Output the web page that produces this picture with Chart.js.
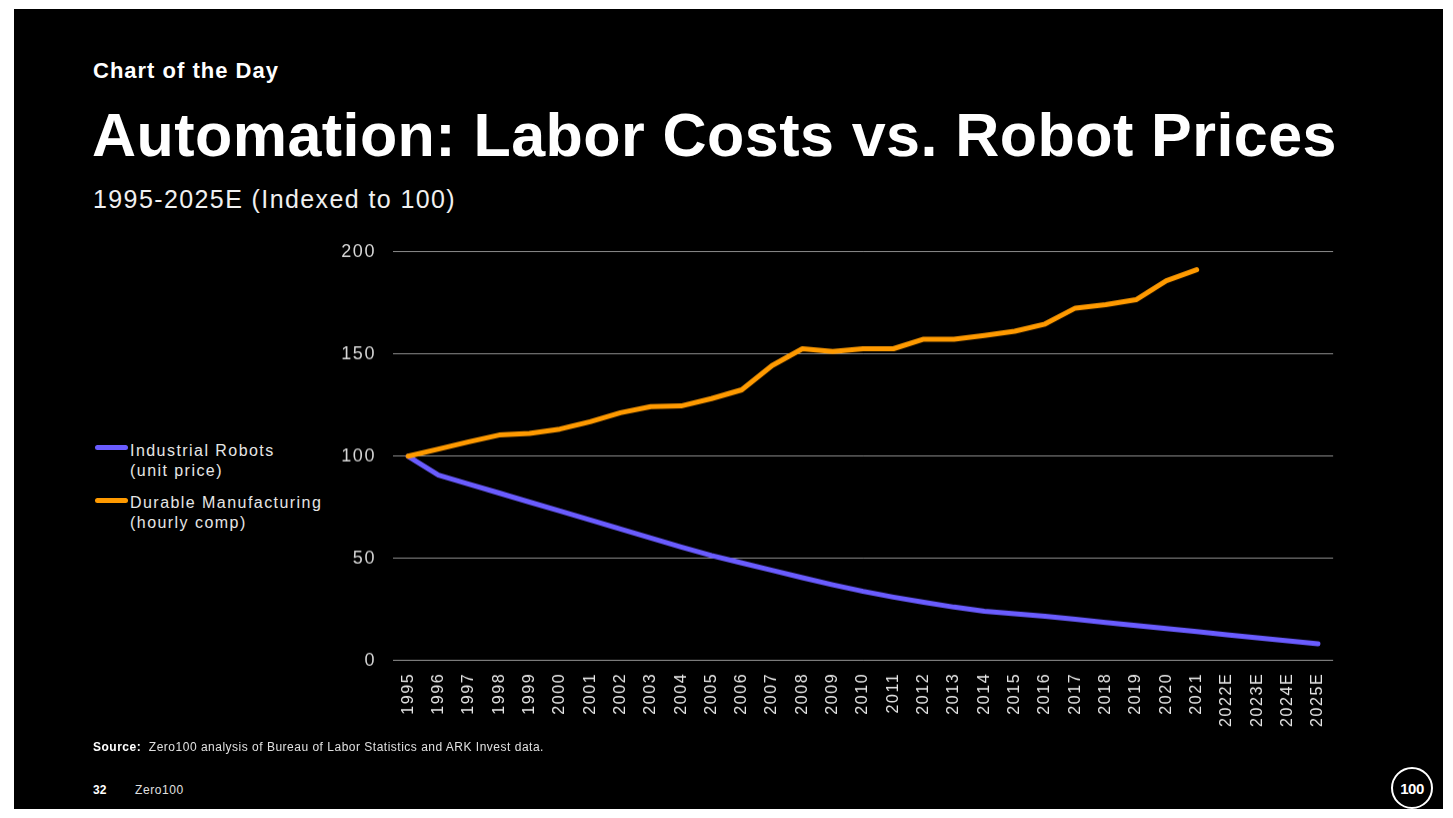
<!DOCTYPE html>
<html>
<head>
<meta charset="utf-8">
<title>Automation: Labor Costs vs. Robot Prices</title>
<script src="https://cdn.jsdelivr.net/npm/chart.js@4.4.1/dist/chart.umd.min.js"></script>
<style>
  html, body { margin: 0; padding: 0; background: #fff; }
  body { width: 1453px; height: 818px; position: relative; overflow: hidden; font-family: 'Liberation Sans', Arial, sans-serif; }
  .slide { position: absolute; left: 14px; top: 9px; width: 1429px; height: 800px; background: #000; }
  .abs { position: absolute; white-space: nowrap; color: #fff; line-height: 1; }
  #kicker { left: 93px; top: 60px; font-size: 22px; font-weight: bold; letter-spacing: 1px; }
  #title { left: 92px; top: 105px; font-size: 61px; font-weight: bold; letter-spacing: 0.45px; }
  #subtitle { left: 93px; top: 187px; font-size: 25px; letter-spacing: 1.4px; color: #f0f0f0; }
  #legend { position: absolute; left: 95px; top: 441px; }
  .item { position: absolute; left: 0; white-space: nowrap; }
  .swatch { position: absolute; left: 0; width: 33px; height: 5px; border-radius: 3px; }
  .label { position: absolute; left: 35px; top: 0; font-size: 16px; line-height: 20px; letter-spacing: 1.45px; color: #e6e6e6; }
  #source { left: 93px; top: 741px; font-size: 12px; letter-spacing: 0.5px; color: #e0e0e0; }
  #source b { font-weight: bold; color: #fff; }
  #page { left: 93px; top: 784px; font-size: 12px; font-weight: bold; }
  #brand { left: 135px; top: 784px; font-size: 12px; letter-spacing: 0.6px; color: #e0e0e0; }
  #logo { position: absolute; left: 1391px; top: 767px; width: 42px; height: 42px; box-sizing: border-box;
          border: 2.5px solid #fff; border-radius: 50%; color: #fff; font-weight: bold; font-size: 15px;
          display: flex; align-items: center; justify-content: center; letter-spacing: -0.5px; }
  #wrap { position: absolute; left: 300px; top: 240px; width: 1040px; height: 520px; }
</style>
</head>
<body>
<div class="slide"></div>
<div class="abs" id="kicker">Chart of the Day</div>
<div class="abs" id="title">Automation: Labor Costs vs. Robot Prices</div>
<div class="abs" id="subtitle">1995-2025E (Indexed to 100)</div>
<div id="legend"></div>
<div id="wrap"><canvas id="chart"></canvas></div>
<div class="abs" id="source"><b>Source:</b>&nbsp; Zero100 analysis of Bureau of Labor Statistics and ARK Invest data.</div>
<div class="abs" id="page">32</div>
<div class="abs" id="brand">Zero100</div>
<div id="logo">100</div>

<script>
const years = ['1995', '1996', '1997', '1998', '1999', '2000', '2001', '2002', '2003', '2004',
  '2005', '2006', '2007', '2008', '2009', '2010', '2011', '2012', '2013', '2014',
  '2015', '2016', '2017', '2018', '2019', '2020', '2021', '2022E', '2023E', '2024E', '2025E'];

// industrial robot unit price, 1995 = 100
const robotPrice = [100, 90.8, 86.4, 82.0, 77.6, 73.2, 68.8, 64.4, 60.0, 55.6,
  51.4, 47.8, 44.2, 40.6, 37.1, 33.9, 31.1, 28.6, 26.2, 24.2,
  22.9, 21.7, 20.2, 18.7, 17.2, 15.7, 14.2, 12.7, 11.2, 9.7, 8.2];

// durable manufacturing hourly compensation, 1995 = 100 (actuals to 2021)
const hourlyComp = [100, 103.5, 107.1, 110.4, 111.2, 113.3, 116.9, 121.3, 124.3, 124.6,
  128.2, 132.5, 144.4, 152.6, 151.3, 152.6, 152.6, 157.3, 157.3, 159.1,
  161.2, 164.7, 172.5, 174.2, 176.6, 185.9, 191.3, null, null, null, null];

const yTicks = [0, 50, 100, 150, 200];

const robotLabel = ['Industrial Robots', '(unit price)'];
const compLabel = ['Durable Manufacturing', '(hourly comp)'];

const BLUE = '#6a5cff';
const ORANGE = '#ff9a00';

// legend on the left, two-line labels
const legendItems = [
  { lines: robotLabel, color: BLUE, top: 0, lineY: 6 },
  { lines: compLabel, color: ORANGE, top: 52, lineY: 7 }
];
const legendBox = document.getElementById('legend');
legendItems.forEach(it => {
  const item = document.createElement('div');
  item.className = 'item';
  item.style.top = it.top + 'px';
  const sw = document.createElement('div');
  sw.className = 'swatch';
  sw.style.background = it.color;
  sw.style.top = (it.lineY - 2.5) + 'px';
  const lab = document.createElement('div');
  lab.className = 'label';
  lab.innerHTML = it.lines.join('<br>');
  item.appendChild(sw);
  item.appendChild(lab);
  legendBox.appendChild(item);
});

// wider tick text, set again after every canvas resize
const tickSpacing = {
  id: 'tickSpacing',
  beforeLayout(chart) { chart.ctx.letterSpacing = '1.6px'; },
  beforeDraw(chart) { chart.ctx.letterSpacing = '1.6px'; }
};

const wrap = document.getElementById('wrap');
const ctx = document.getElementById('chart').getContext('2d');
const chart = new Chart(ctx, {
  type: 'line',
  data: {
    labels: years,
    datasets: [
      {
        label: robotLabel.join(' '),
        data: robotPrice,
        borderColor: BLUE,
        borderWidth: 5,
        pointRadius: 0,
        borderCapStyle: 'round',
        borderJoinStyle: 'round',
        tension: 0,
        order: 1
      },
      {
        label: compLabel.join(' '),
        data: hourlyComp,
        borderColor: ORANGE,
        borderWidth: 5,
        pointRadius: 0,
        borderCapStyle: 'round',
        borderJoinStyle: 'round',
        tension: 0,
        order: 0
      }
    ]
  },
  options: {
    responsive: true,
    maintainAspectRatio: false,
    animation: false,
    layout: { padding: { top: 14, right: 8, bottom: 0, left: 0 } },
    scales: {
      x: {
        offset: true,
        grid: { display: false, drawTicks: false },
        border: { display: false },
        ticks: {
          autoSkip: false,
          maxRotation: 90,
          minRotation: 90,
          padding: 12,
          color: '#e6e6e6',
          font: { family: "'Liberation Sans', Arial, sans-serif", size: 16 }
        },
        afterFit: scale => { scale.height = 100; }
      },
      y: {
        min: 0,
        max: 200,
        afterBuildTicks: scale => { scale.ticks = yTicks.map(v => ({ value: v })); },
        grid: { color: '#8c8c8c', lineWidth: 1, drawTicks: false },
        border: { display: false },
        ticks: {
          padding: 17,
          color: '#d8d8d8',
          font: { family: "'Liberation Sans', Arial, sans-serif", size: 18 }
        },
        afterFit: scale => { scale.width = 93; }
      }
    },
    plugins: {
      legend: { display: false },
      tooltip: { enabled: false }
    }
  },
  plugins: [tickSpacing]
});

// fit the plot area to the slide grid: 393..1333 wide, 252..660 tall
const target = { left: 393, top: 252, right: 1333, bottom: 660 };
let a = chart.chartArea;
wrap.style.width = (1040 + (target.right - target.left) - (a.right - a.left)) + 'px';
wrap.style.height = (520 + (target.bottom - target.top) - (a.bottom - a.top)) + 'px';
chart.resize();
a = chart.chartArea;
wrap.style.left = (target.left - a.left) + 'px';
wrap.style.top = (target.top - a.top) + 'px';
</script>
</body>
</html>
